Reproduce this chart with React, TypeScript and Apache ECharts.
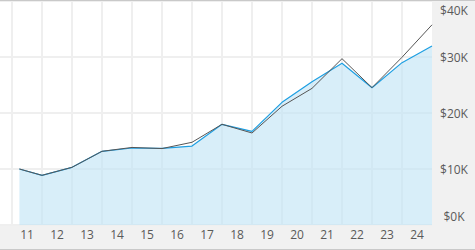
import React, { useEffect, useRef } from "react";
import * as echarts from "echarts";

// Valuation dates (first point is the start of the fund, then year ends)
const dates = [
  "2011-03-31", "2011-12-31", "2012-12-31", "2013-12-31", "2014-12-31",
  "2015-12-31", "2016-12-31", "2017-12-31", "2018-12-31", "2019-12-31",
  "2020-12-31", "2021-12-31", "2022-12-31", "2023-12-31", "2024-12-31",
];
// Growth of $10,000 — fund (blue area)
const fundValues = [
  10000, 8870, 10300, 13160, 13750, 13700, 14100, 17980, 16730, 21900,
  25600, 28870, 24520, 28990, 31950,
];
// Growth of $10,000 — benchmark (gray line)
const benchmarkValues = [
  10000, 8870, 10300, 13160, 13850, 13650, 14770, 17980, 16430, 21200,
  24400, 29700, 24520, 29950, 35750,
];
// Year boundaries (grid lines) and year labels
const yearStarts = [2011, 2012, 2013, 2014, 2015, 2016, 2017, 2018, 2019, 2020, 2021, 2022, 2023, 2024];
const yearLabels = ["11", "12", "13", "14", "15", "16", "17", "18", "19", "20", "21", "22", "23", "24"];
const yTicks = [0, 10000, 20000, 30000, 40000];

function toYear(d: string): number {
  const [y, m, day] = d.split("-").map(Number);
  const start = Date.UTC(y, 0, 1);
  const end = Date.UTC(y + 1, 0, 1);
  const t = Date.UTC(y, m - 1, day) + 86400000; // end of that day
  return y + (t - start) / (end - start);
}

const FONT = "'Open Sans', 'Noto Sans', sans-serif";
const LABEL_COLOR = "#5a5a5a";

export default function App() {
  const ref = useRef<HTMLDivElement>(null);

  useEffect(() => {
    if (!ref.current) return;
    const chart = echarts.init(ref.current, undefined, { renderer: "svg" });
    const xs = dates.map(toYear);
    const labelValues = yearStarts.map((y) => y + 0.5);

    chart.setOption({
      animation: false,
      backgroundColor: "#f1f1f1",
      grid: {
        left: 0,
        right: 43,
        top: 0,
        bottom: 24,
        show: true,
        backgroundColor: "#ffffff",
        borderWidth: 0,
      },
      xAxis: {
        type: "value",
        min: 2010.6,
        max: 2025,
        axisLine: { show: false },
        axisTick: { show: false, customValues: yearStarts },
        splitLine: { show: true, lineStyle: { color: "#efefef", width: 2 } },
        axisLabel: {
          customValues: labelValues,
          formatter: (v: number) => {
            const i = yearStarts.indexOf(Math.floor(v));
            return i >= 0 ? yearLabels[i] : "";
          },
          color: LABEL_COLOR,
          fontSize: 12,
          fontFamily: FONT,
          margin: 3,
        },
      },
      yAxis: {
        type: "value",
        position: "right",
        min: yTicks[0],
        max: yTicks[yTicks.length - 1],
        interval: 10000,
        axisLine: { show: false },
        axisTick: { show: false },
        splitLine: { show: true, lineStyle: { color: "#efefef", width: 2 } },
        axisLabel: {
          align: "center",
          margin: 22,
          color: LABEL_COLOR,
          fontSize: 12,
          fontFamily: FONT,
          formatter: (v: number) => {
            const s = "$" + v / 1000 + "K";
            if (v === yTicks[0]) return "{lo|" + s + "}";
            if (v === yTicks[yTicks.length - 1]) return "{hi|" + s + "}";
            return s;
          },
          rich: {
            lo: { padding: [0, 0, 18, 0], color: LABEL_COLOR, fontSize: 12, fontFamily: FONT },
            hi: { padding: [18, 0, 0, 0], color: LABEL_COLOR, fontSize: 12, fontFamily: FONT },
          },
        },
      },
      series: [
        {
          name: "Fund",
          type: "line",
          data: xs.map((x, i) => [x, fundValues[i]]),
          symbol: "none",
          z: 2,
          lineStyle: { color: "#1e9fe2", width: 1.2 },
          itemStyle: { color: "#1e9fe2" },
          areaStyle: { color: "rgba(190,226,245,0.6)", opacity: 1 },
        },
        {
          name: "Benchmark",
          type: "line",
          data: xs.map((x, i) => [x, benchmarkValues[i]]),
          symbol: "none",
          z: 3,
          lineStyle: { color: "#555555", width: 1 },
          itemStyle: { color: "#555555" },
        },
      ],
    });
    return () => chart.dispose();
  }, []);

  return (
    <div
      style={{
        position: "absolute",
        left: 0,
        top: 0,
        width: 475,
        height: 250,
        boxSizing: "border-box",
        borderTop: "1px solid #c9c9c9",
        borderBottom: "1px solid #c9c9c9",
        background: "#f1f1f1",
      }}
    >
      <div ref={ref} style={{ width: 475, height: 248 }} />
    </div>
  );
}
